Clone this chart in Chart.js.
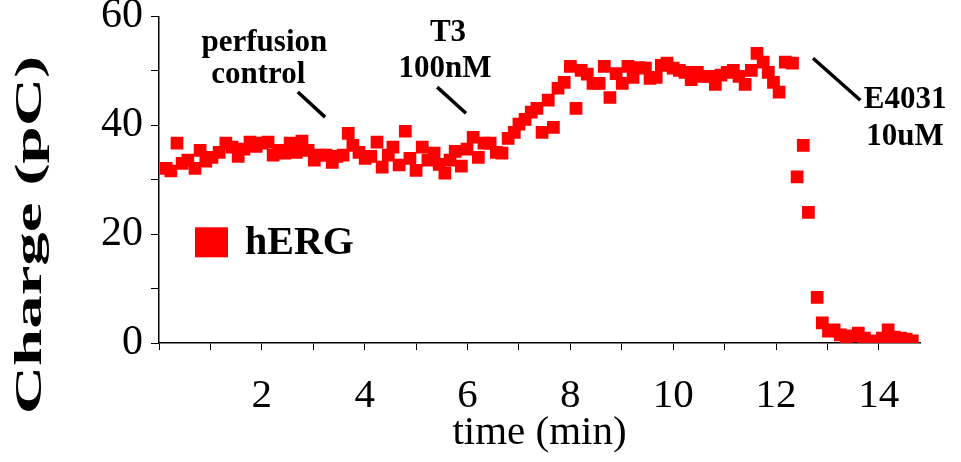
<!DOCTYPE html>
<html>
<head>
<meta charset="utf-8">
<script src="https://cdn.jsdelivr.net/npm/chart.js@4.4.1/dist/chart.umd.min.js"></script>
<style>
  html, body { margin: 0; padding: 0; background: #fff; }
</style>
</head>
<body>
<canvas id="chargeChart" width="961" height="462"></canvas>
<script>
// time (min) of each recorded point
const timeMin = [
  0.14, 0.23, 0.35, 0.45, 0.56, 0.70, 0.80, 0.91, 1.03, 1.17,
  1.30, 1.42, 1.54, 1.65, 1.77, 1.89, 2.00, 2.12, 2.22, 2.33,
  2.45, 2.55, 2.67, 2.78, 2.90, 3.02, 3.13, 3.25, 3.37, 3.46,
  3.58, 3.68, 3.77, 3.89, 4.01, 4.12, 4.24, 4.34, 4.46, 4.55,
  4.67, 4.79, 4.88, 5.00, 5.12, 5.23, 5.35, 5.45, 5.56, 5.66,
  5.76, 5.88, 5.99, 6.11, 6.21, 6.32, 6.44, 6.56, 6.67, 6.79,
  6.91, 7.00, 7.12, 7.24, 7.35, 7.45, 7.57, 7.67, 7.76, 7.88,
  8.00, 8.11, 8.21, 8.33, 8.44, 8.56, 8.66, 8.77, 8.89, 9.01,
  9.12, 9.22, 9.34, 9.46, 9.55, 9.67, 9.77, 9.88, 10.00, 10.12,
  10.23, 10.35, 10.47, 10.58, 10.70, 10.82, 10.93, 11.05, 11.17, 11.28,
  11.40, 11.52, 11.63, 11.75, 11.85, 11.95, 12.06, 12.18, 12.32, 12.41,
  12.53, 12.63, 12.80, 12.90, 13.02, 13.13, 13.25, 13.37, 13.48, 13.60,
  13.72, 13.83, 13.95, 14.07, 14.18, 14.30, 14.42, 14.53, 14.65
];

// charge (pC)
const chargePC = [
  32.1, 31.6, 36.7, 33.0, 33.6, 32.1, 35.4, 33.4, 34.1, 35.0,
  36.7, 36.0, 34.3, 35.6, 36.9, 36.1, 36.7, 36.9, 34.5, 35.4,
  34.9, 36.7, 35.0, 37.1, 35.4, 33.6, 34.5, 34.5, 33.2, 34.3,
  34.5, 38.5, 36.3, 35.0, 33.9, 34.3, 36.9, 32.3, 34.5, 36.0,
  32.7, 38.9, 33.9, 31.7, 36.0, 33.6, 34.9, 32.8, 31.2, 33.6,
  35.2, 32.5, 35.6, 37.8, 34.1, 36.7, 36.7, 35.0, 34.9, 37.6,
  38.7, 40.2, 41.1, 42.4, 43.1, 38.7, 44.6, 39.6, 46.8, 47.9,
  50.8, 43.1, 50.1, 49.4, 47.7, 47.7, 50.8, 45.1, 49.5, 47.7,
  50.8, 48.8, 50.6, 50.5, 48.6, 48.8, 51.0, 51.4, 50.5, 50.1,
  49.7, 48.4, 49.7, 49.0, 49.0, 47.5, 49.2, 49.7, 50.1, 49.0,
  47.5, 50.1, 53.2, 51.6, 49.7, 47.9, 46.1, 51.6, 51.4, 30.5,
  36.3, 24.0, 8.4, 3.7, 2.2, 2.4, 1.5, 1.1, 1.3, 1.8,
  0.9, 0.4, 0.0, 0.9, 2.4, 1.1, 0.9, 0.7, 0.4
];

const xTickLabels = ['2', '4', '6', '8', '10', '12', '14'];
const yTickLabels = ['0', '20', '40', '60'];

const seriesName = 'hERG';
const xTitle = 'time (min)';
const yTitle = 'Charge (pC)';

// text notes with leader lines, placed in data units
const notes = [
  { lines: ['perfusion', 'control'], at: [[2.05, 55.2], [1.93, 49.2]], from: [2.70, 46.1], to: [3.23, 41.5] },
  { lines: ['T3', '100nM'], at: [[5.62, 57.0], [5.56, 50.3]], from: [5.41, 47.0], to: [5.97, 42.2] },
  { lines: ['E4031', '10uM'], at: [[14.51, 44.6], [14.51, 37.8]], from: [12.72, 52.3], to: [13.64, 44.6] }
];

const points = timeMin.map((t, i) => ({ x: t, y: chargePC[i] }));

Chart.defaults.font.family = "'Liberation Serif', 'Times New Roman', serif";
Chart.defaults.color = '#000';

// draws the notes, the inline legend and the stretched y title
const overlayPlugin = {
  id: 'overlay',
  afterDraw(chart) {
    const ctx = chart.ctx;
    const xs = chart.scales.x;
    const ys = chart.scales.y;
    ctx.save();
    ctx.fillStyle = '#000';
    ctx.strokeStyle = '#000';
    ctx.textAlign = 'center';
    ctx.textBaseline = 'middle';
    ctx.font = "bold 31px 'Liberation Serif'";
    notes.forEach(n => {
      n.lines.forEach((txt, k) => {
        ctx.fillText(txt, xs.getPixelForValue(n.at[k][0]), ys.getPixelForValue(n.at[k][1]));
      });
      ctx.lineWidth = 3.5;
      ctx.beginPath();
      ctx.moveTo(xs.getPixelForValue(n.from[0]), ys.getPixelForValue(n.from[1]));
      ctx.lineTo(xs.getPixelForValue(n.to[0]), ys.getPixelForValue(n.to[1]));
      ctx.stroke();
    });

    // legend inside the plot
    const lx = xs.getPixelForValue(0.70);
    const ly = ys.getPixelForValue(18.5);
    ctx.fillStyle = '#ff0000';
    ctx.fillRect(lx, ly - 15, 33, 30);
    ctx.fillStyle = '#000';
    ctx.textAlign = 'left';
    ctx.font = "bold 40px 'Liberation Serif'";
    ctx.fillText(chart.data.datasets[0].label, lx + 50, ly + 1);

    // y axis title, the source has it stretched along the axis
    ctx.translate(31, 235);
    ctx.rotate(-Math.PI / 2);
    ctx.scale(1.76, 1);
    ctx.textAlign = 'center';
    ctx.font = "bold 38px 'Liberation Serif'";
    ctx.fillText(yTitle, 0, 0);
    ctx.restore();
  }
};

const ctx = document.getElementById('chargeChart').getContext('2d');

const chargeChart = new Chart(ctx, {
  type: 'scatter',
  data: {
    datasets: [{
      label: seriesName,
      data: points,
      pointStyle: 'rect',
      pointRadius: 9,
      pointHoverRadius: 9,
      borderWidth: 0,
      backgroundColor: '#ff0000',
      borderColor: '#ff0000'
    }]
  },
  options: {
    responsive: false,
    animation: false,
    events: [],
    layout: { padding: { top: 0, right: 41, left: 0, bottom: 0 } },
    plugins: {
      legend: { display: false },
      tooltip: { enabled: false }
    },
    scales: {
      x: {
        type: 'linear',
        min: 0,
        max: 14.8,
        afterFit: s => { s.height = 119; },
        border: { display: true, color: '#000', width: 1.5 },
        grid: { drawOnChartArea: false, drawTicks: true, tickLength: 7, color: '#000', lineWidth: 1 },
        ticks: {
          stepSize: 1,
          includeBounds: false,
          autoSkip: false,
          maxRotation: 0,
          padding: 22,
          font: { size: 41 },
          callback: v => xTickLabels.includes(String(v)) ? String(v) : ''
        },
        title: {
          display: true,
          text: xTitle,
          font: { size: 41 },
          padding: { top: 0, bottom: 4 }
        }
      },
      y: {
        min: 0,
        max: 60,
        afterFit: s => { s.width = 159; },
        border: { display: true, color: '#000', width: 1.5 },
        grid: { drawOnChartArea: false, drawTicks: true, tickLength: 8, color: '#000', lineWidth: 1 },
        ticks: {
          stepSize: 10,
          padding: 8,
          font: { size: 42, lineHeight: 0.4 },
          callback: v => yTickLabels.includes(String(v)) ? String(v) : ''
        }
      }
    }
  },
  plugins: [overlayPlugin]
});
</script>
</body>
</html>
